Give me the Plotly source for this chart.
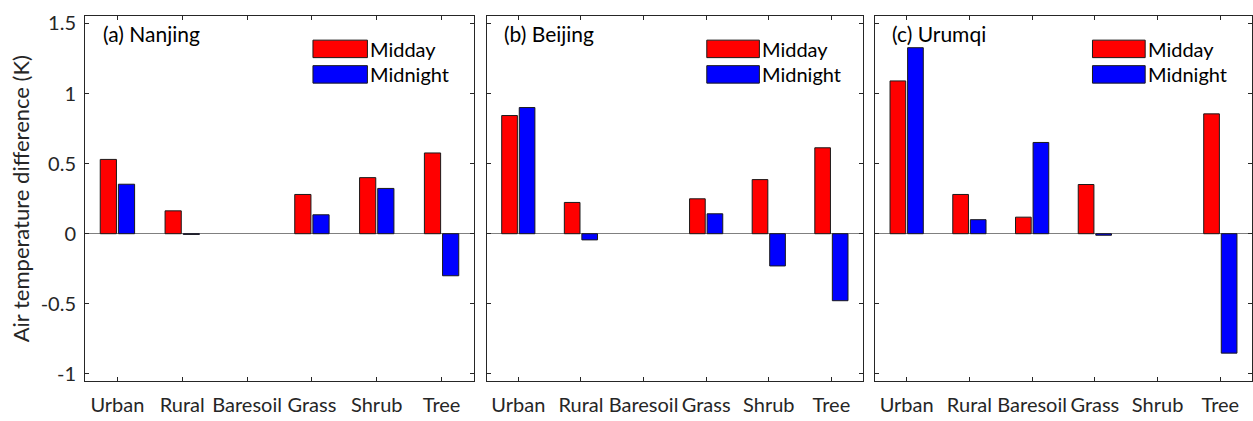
import plotly.graph_objects as go

categories = ["Urban", "Rural", "Baresoil", "Grass", "Shrub", "Tree"]
panel_titles = ["(a) Nanjing", "(b) Beijing", "(c) Urumqi"]

nanjing_midday = [0.53, 0.163, None, 0.28, 0.40, 0.576]
nanjing_midnight = [0.353, -0.005, None, 0.135, 0.323, -0.30]
beijing_midday = [0.843, 0.223, None, 0.249, 0.386, 0.613]
beijing_midnight = [0.90, -0.044, None, 0.142, -0.23, -0.478]
urumqi_midday = [1.09, 0.28, 0.118, 0.351, None, 0.855]
urumqi_midnight = [1.327, 0.10, 0.651, -0.011, None, -0.852]

yticks = [-1, -0.5, 0, 0.5, 1, 1.5]
yticklabels = ["-1", "-0.5", "0", "0.5", "1", "1.5"]

midday_vals = [nanjing_midday, beijing_midday, urumqi_midday]
midnight_vals = [nanjing_midnight, beijing_midnight, urumqi_midnight]

W, H = 1253, 421
FONT = "Lato"
AXC = "#262626"

x_dom_px = [(85, 474), (487, 862.7), (875.3, 1251.7)]
y_top, y_bot = 10.7, 384

fig = go.Figure()
for i in range(3):
    xa = "x" if i == 0 else f"x{i+1}"
    ya = "y" if i == 0 else f"y{i+1}"
    fig.add_trace(go.Bar(x=categories, y=midday_vals[i], name="Midday",
                         marker=dict(color="#FF0000", line=dict(color="#1a1a1a", width=1)),
                         width=0.25, offset=-0.265, xaxis=xa, yaxis=ya, showlegend=False))
    fig.add_trace(go.Bar(x=categories, y=midnight_vals[i], name="Midnight",
                         marker=dict(color="#0000FF", line=dict(color="#1a1a1a", width=1)),
                         width=0.25, offset=0.015, xaxis=xa, yaxis=ya, showlegend=False))

layout = dict(width=W, height=H, margin=dict(l=0, r=0, t=0, b=0),
              paper_bgcolor="white", plot_bgcolor="white",
              barmode="overlay", showlegend=False,
              font=dict(family=FONT, size=20, color="#262626"))

shapes = []
annotations = []
for i in range(3):
    sfx = "" if i == 0 else str(i + 1)
    x0, x1 = x_dom_px[i]
    layout["xaxis" + sfx] = dict(
        domain=[x0 / W, x1 / W], anchor="y" + sfx,
        type="category", categoryorder="array", categoryarray=categories,
        range=[-0.5, 5.5], showline=True, linecolor=AXC, linewidth=1,
        mirror="allticks", ticks="inside", ticklen=4, tickcolor=AXC,
        showgrid=False, zeroline=False, ticklabelstandoff=6,
        tickfont=dict(family=FONT, size=20, color="#262626"))
    layout["yaxis" + sfx] = dict(
        domain=[1 - y_bot / H, 1 - y_top / H], anchor="x" + sfx,
        range=[-1.05, 1.55], tickvals=yticks, ticktext=yticklabels,
        showticklabels=(i == 0), ticklabelstandoff=4,
        showline=True, linecolor=AXC, linewidth=1,
        mirror="allticks", ticks="inside", ticklen=4, tickcolor=AXC,
        showgrid=False, zeroline=True, zerolinecolor="#808080", zerolinewidth=1,
        tickfont=dict(family=FONT, size=20, color="#262626"))
    xd = ("x" + sfx if sfx else "x") + " domain"
    yd = ("y" + sfx if sfx else "y") + " domain"
    annotations.append(dict(text=panel_titles[i], x=0.04, y=0.954, xref=xd, yref=yd,
                            xanchor="left", yanchor="middle", showarrow=False,
                            font=dict(family=FONT, size=21, color="black")))
    lx0 = [0.586, 0.585, 0.577][i]
    lx1 = lx0 + 0.14
    for (yy0, yy1, col, lab) in [(0.887, 0.935, "#FF0000", "Midday"),
                                 (0.817, 0.865, "#0000FF", "Midnight")]:
        shapes.append(dict(type="rect", xref=xd, yref=yd, x0=lx0, x1=lx1, y0=yy0, y1=yy1,
                           fillcolor=col, line=dict(color="#1a1a1a", width=1)))
        annotations.append(dict(text=lab, x=lx1 + 0.002, y=(yy0 + yy1) / 2, xref=xd, yref=yd,
                                xanchor="left", yanchor="middle", showarrow=False,
                                font=dict(family=FONT, size=20, color="black")))

annotations.append(dict(text="Air temperature difference (K)", x=20 / W, y=1 - 198 / H,
                        xref="paper", yref="paper", textangle=-90, showarrow=False,
                        xanchor="center", yanchor="middle",
                        font=dict(family=FONT, size=22, color="#262626")))
layout["shapes"] = shapes
layout["annotations"] = annotations
fig.update_layout(**layout)
fig.write_html("out.html")
